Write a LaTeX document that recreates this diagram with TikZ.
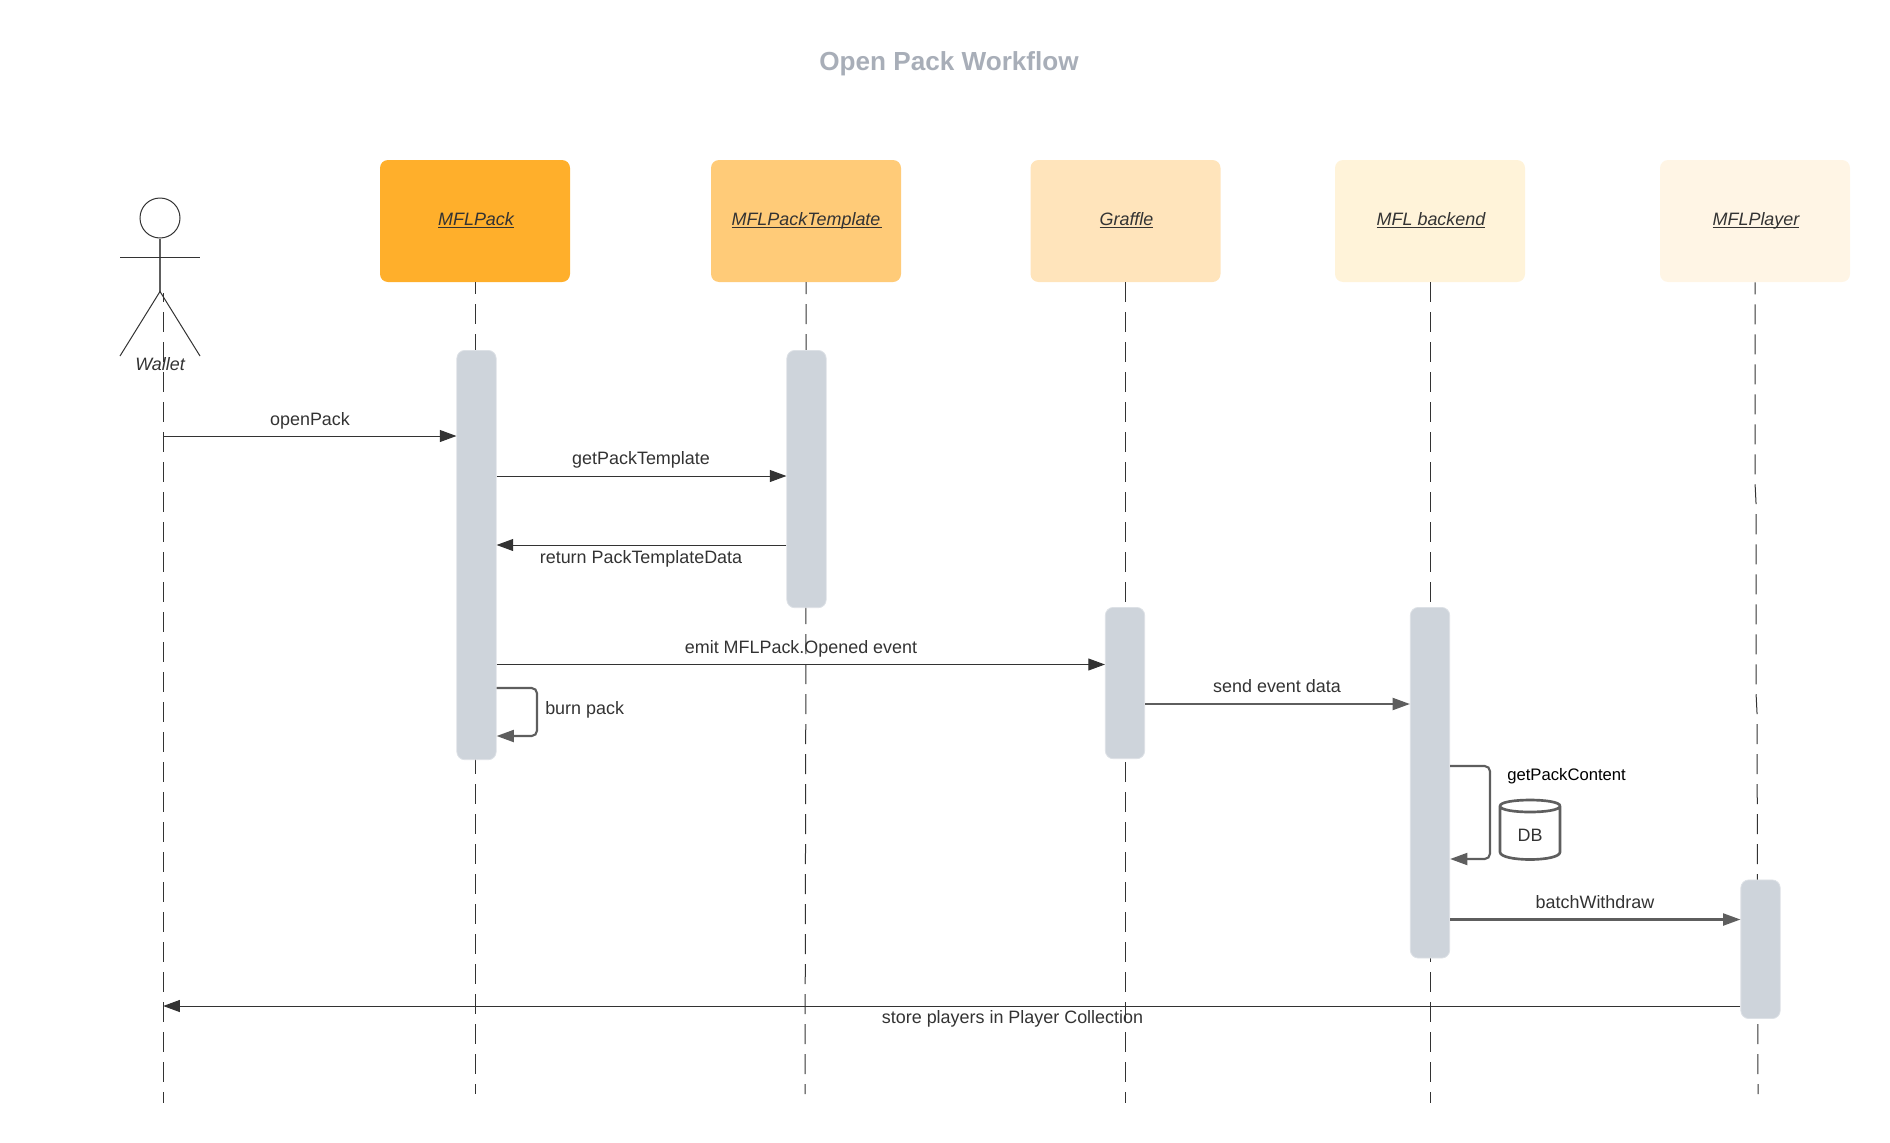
\documentclass[tikz,border=0pt]{standalone}
\usepackage{fontspec}
\setmainfont{Liberation Sans}
\usetikzlibrary{arrows.meta,shapes.geometric}
\definecolor{inkdark}{HTML}{333333}
\definecolor{inkgray}{HTML}{5E5E5E}
\definecolor{barfill}{HTML}{CED4DB}
\definecolor{titlegray}{HTML}{A8AEB8}
\newcommand{\ulname}[1]{\kern1.5pt\raisebox{-3.3pt}[0pt][0pt]{\underline{\smash{#1}}}}
\tikzset{
  head/.style={rectangle,rounded corners=6pt,minimum width=142.5pt,minimum height=91.5pt,inner sep=0pt,text=inkdark,font=\fontsize{13.45pt}{15pt}\selectfont\itshape},
  lifebar/.style={rectangle,rounded corners=6pt,fill=barfill,draw=barfill!70!white,line width=0.6pt,minimum width=29.5pt,inner sep=0pt,anchor=north},
  lifeline/.style={draw=inkdark,line width=0.75pt,dash pattern=on 15pt off 7.5pt},
  msgthin/.style={draw=inkdark,line width=0.75pt,-{Triangle[length=12.5pt,width=9pt]}},
  msgthick/.style={draw=inkgray,line width=1.6pt,rounded corners=4pt,-{Triangle[length=13pt,width=9pt]}},
  lbl/.style={text=inkdark,inner sep=0pt,font=\fontsize{13.45pt}{15pt}\selectfont},
}
\begin{document}
\begin{tikzpicture}[x=0.75pt,y=-0.75pt]
\useasboundingbox (0,0) rectangle (1890,1142);
\node[text=titlegray,font=\fontsize{19.6pt}{22pt}\selectfont\bfseries] (title) at (949,63.5) {Open Pack Workflow};
% head boxes
\node[head,fill={rgb,255:red,255;green,175;blue,43}] (hpack) at (475,221) {\ulname{MFLPack}};
\node[head,fill={rgb,255:red,255;green,203;blue,120}] (htemplate) at (806,221) {\ulname{MFLPackTemplate\kern1.5pt}};
\node[head,fill={rgb,255:red,255;green,228;blue,187}] (hgraffle) at (1125.5,221) {\ulname{Graffle}};
\node[head,fill={rgb,255:red,255;green,243;blue,217}] (hbackend) at (1430,221) {\ulname{MFL backend}};
\node[head,fill={rgb,255:red,255;green,245;blue,229}] (hplayer) at (1755,221) {\ulname{MFLPlayer}};
% lifeline ends
\coordinate (wtop) at (163.2,293);
\coordinate (wend) at (163.2,1103);
\coordinate (pstart) at (475.3,282);
\coordinate (pend) at (475.3,1094);
\coordinate (tstart) at (806,282);
\coordinate (tmid) at (806,600);
\coordinate (tend) at (805,1094);
\coordinate (gstart) at (1125.5,282);
\coordinate (gend) at (1125.5,1103);
\coordinate (bstart) at (1430.5,282);
\coordinate (bend) at (1430.5,1103);
\coordinate (la) at (1755,483);
\coordinate (lb) at (1756,503);
\coordinate (lc) at (1756,693);
\coordinate (ld) at (1757,713);
\coordinate (lend) at (1758,1094);
% lifelines
\draw[lifeline,dash phase=8.25pt] (wtop) -- (wend);
\draw[lifeline,dash phase=6pt] (pstart) -- (pend);
\draw[lifeline,dash phase=6pt] (tstart) -- (tmid) -- (tend);
\draw[lifeline] (gstart) -- (gend);
\draw[lifeline] (bstart) -- (bend);
\draw[lifeline,dash phase=6pt] (hplayer.south) -- (la) -- (lb) -- (lc) -- (ld) -- (lend);
% activation bars
\node[lifebar,minimum height=307pt] (bpack) at (476.5,350) {};
\node[lifebar,minimum height=193pt] (btemplate) at (806.5,350) {};
\node[lifebar,minimum height=113.5pt] (bgraffle) at (1125,607) {};
\node[lifebar,minimum height=263pt] (bbackend) at (1430,607) {};
\node[lifebar,minimum height=104pt] (bplayer) at (1760.5,879.5) {};
% actor
\node[circle,draw=inkdark,line width=0.75pt,minimum size=30pt,inner sep=0pt] (ahead) at (160,218) {};
\coordinate (ahip) at (160,291.5);
\coordinate (aarml) at (120,257);
\coordinate (aarmr) at (200,257);
\coordinate (alegl) at (120,356);
\coordinate (alegr) at (200,356);
\draw[inkgray,line width=1pt] (ahead.south) -- (ahip);
\draw[inkdark,line width=0.75pt] (aarml) -- (aarmr);
\draw[inkdark,line width=0.75pt] (alegl) -- (ahip) -- (alegr);
\node[lbl,font=\fontsize{13.45pt}{15pt}\selectfont\itshape] (awallet) at (160,364.5) {Wallet};
% messages
\draw[msgthin] (wend |- 0,436) -- (bpack.west |- 0,436);
\node[lbl] (lopen) at (310,420.5) {openPack};
\draw[msgthin] (bpack.east |- 0,476) -- (btemplate.west |- 0,476);
\node[lbl] (lget) at (641,460) {getPackTemplate};
\draw[msgthin] (btemplate.west |- 0,545) -- (bpack.east |- 0,545);
\node[lbl] (lret) at (641,558.5) {return PackTemplateData};
\draw[msgthin] (bpack.east |- 0,664.5) -- (bgraffle.west |- 0,664.5);
\node[lbl] (lemit) at (801,649) {emit MFLPack.Opened event};
\draw[msgthick] (bpack.east |- 0,688) -- (537,688) -- (537,736) -- (bpack.east |- 0,736);
\node[lbl,anchor=west] (lburn) at (545,710) {burn pack};
\draw[msgthick] (bgraffle.east |- 0,704) -- (bbackend.west |- 0,704);
\node[lbl] (lsend) at (1277,686) {send event data};
\draw[msgthick] (bbackend.east |- 0,766) -- (1490,766) -- (1490,859) -- (bbackend.east |- 0,859);
\node[lbl,anchor=west,text=black,font=\fontsize{12.5pt}{15pt}\selectfont] (lcontent) at (1507,776) {getPackContent};
\draw[msgthick] (bbackend.east |- 0,919.5) -- (bplayer.west |- 0,919.5);
\node[lbl] (lbatch) at (1595,902) {batchWithdraw};
\draw[msgthin] (bplayer.west |- 0,1006) -- (wend |- 0,1006);
\node[lbl] (lstore) at (1012.5,1019) {store players in Player Collection};
% database
\draw[draw=inkgray,line width=2pt,line join=round] (1500,806) .. controls (1500,798) and (1560,798) .. (1560,806) .. controls (1560,814) and (1500,814) .. (1500,806) -- (1500,852) .. controls (1500,862) and (1560,862) .. (1560,852) -- (1560,806);
\node[lbl] (ldb) at (1530,835) {DB};
\end{tikzpicture}
\end{document}
